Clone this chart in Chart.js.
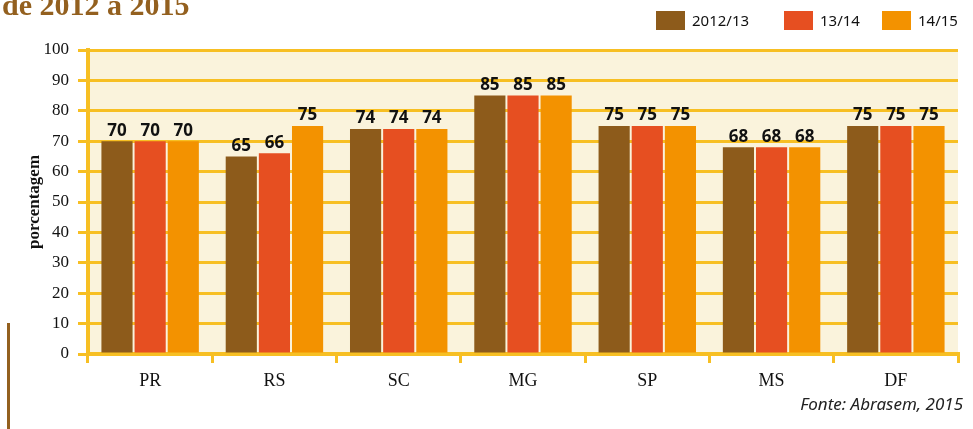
<!DOCTYPE html>
<html>
<head>
<meta charset="utf-8">
<script src="https://cdn.jsdelivr.net/npm/chart.js@4"></script>
<style>
  html, body { margin: 0; padding: 0; background: #fff; }
  #wrap { position: relative; width: 973px; height: 429px; overflow: hidden; }
  #chart { position: absolute; left: 0; top: 0; }
  #titulo { position: absolute; left: 2px; top: -12px; font: bold 30px "Liberation Serif", serif; color: #93601f; }
  #legenda { position: absolute; top: 10px; left: 656px; font: 15px "Noto Sans", sans-serif; color: #111; }
  .item { position: absolute; top: 0; display: flex; align-items: center; }
  .caixa { width: 29px; height: 19px; margin-right: 7px; }
  #fonte { position: absolute; right: 10px; top: 392px; font: italic 17px "Noto Sans", sans-serif; color: #222; }
  #linha { position: absolute; left: 7px; top: 323px; width: 3px; height: 106px; background: #93601f; }
</style>
</head>
<body>
<div id="wrap">
  <canvas id="chart" width="973" height="429"></canvas>
  <div id="titulo">de 2012 a 2015</div>
  <div id="legenda"></div>
  <div id="fonte">Fonte: Abrasem, 2015</div>
  <div id="linha"></div>
</div>
<script>
// ----------------------------
// dados
// ----------------------------

const estados = ["PR", "RS", "SC", "MG", "SP", "MS", "DF"];

const safras = ["2012/13", "13/14", "14/15"];

const valores2012 = [70, 65, 74, 85, 75, 68, 75];
const valores2013 = [70, 66, 74, 85, 75, 68, 75];
const valores2014 = [70, 75, 74, 85, 75, 68, 75];

const ticksY = [0, 10, 20, 30, 40, 50, 60, 70, 80, 90, 100];

const cores = ["#8d5b1b", "#e64f21", "#f39200"];

const amarelo = "#f7bf23";

// ----------------------------
// legenda
// ----------------------------

const legenda = document.getElementById("legenda");
const posLegenda = [0, 128, 226];

safras.forEach((s, i) => {
    const item = document.createElement("div");
    item.className = "item";
    item.style.left = posLegenda[i] + "px";
    item.innerHTML = `<div class="caixa" style="background:${cores[i]}"></div><span>${s}</span>`;
    legenda.appendChild(item);
});

// ----------------------------
// plugins
// ----------------------------

const fundo = {
    id: "fundo",
    beforeDraw(chart) {
        const a = chart.chartArea;
        const ctx = chart.ctx;
        ctx.save();
        ctx.fillStyle = "#faf3dc";
        ctx.fillRect(a.left, a.top, a.right - a.left, a.bottom - a.top);
        ctx.restore();
    }
};

const rotulos = {
    id: "rotulos",
    afterDatasetsDraw(chart) {
        const ctx = chart.ctx;
        ctx.save();
        ctx.font = "bold 17px 'Noto Sans', sans-serif";
        ctx.fillStyle = "#111";
        ctx.textAlign = "center";
        ctx.textBaseline = "bottom";
        chart.data.datasets.forEach((ds, i) => {
            chart.getDatasetMeta(i).data.forEach((bar, j) => {
                ctx.fillText(ds.data[j], bar.x, bar.y - 2);
            });
        });
        ctx.restore();
    }
};

// ----------------------------
// gráfico
// ----------------------------

new Chart(document.getElementById("chart"), {
    type: "bar",
    data: {
        labels: estados,
        datasets: [valores2012, valores2013, valores2014].map((d, i) => ({
            label: safras[i],
            data: d,
            backgroundColor: cores[i],
            categoryPercentage: 0.8,
            barPercentage: 0.94
        }))
    },
    options: {
        responsive: false,
        animation: false,
        layout: { padding: { top: 50, right: 15, left: 0, bottom: 0 } },
        plugins: {
            legend: { display: false },
            tooltip: { enabled: false }
        },
        scales: {
            x: {
                afterFit(scale) { scale.height = 75; },
                grid: {
                    offset: true,
                    drawOnChartArea: false,
                    color: amarelo,
                    lineWidth: 3,
                    tickLength: 9
                },
                border: { color: amarelo, width: 4 },
                ticks: {
                    color: "#111",
                    padding: 7,
                    font: { family: "Liberation Serif", size: 18 }
                }
            },
            y: {
                min: 0,
                max: 100,
                afterFit(scale) { scale.width = 88; },
                afterBuildTicks(scale) {
                    scale.ticks = ticksY.map(v => ({ value: v }));
                },
                grid: {
                    color: amarelo,
                    lineWidth: 3,
                    tickLength: 10
                },
                border: { color: amarelo, width: 4 },
                ticks: {
                    color: "#111",
                    padding: 9,
                    font: { family: "Liberation Serif", size: 17 }
                },
                title: {
                    display: true,
                    text: "porcentagem",
                    color: "#111",
                    padding: { top: 24, bottom: 0 },
                    font: { family: "Liberation Serif", size: 17, weight: "bold" }
                }
            }
        }
    },
    plugins: [fundo, rotulos]
});
</script>
</body>
</html>
